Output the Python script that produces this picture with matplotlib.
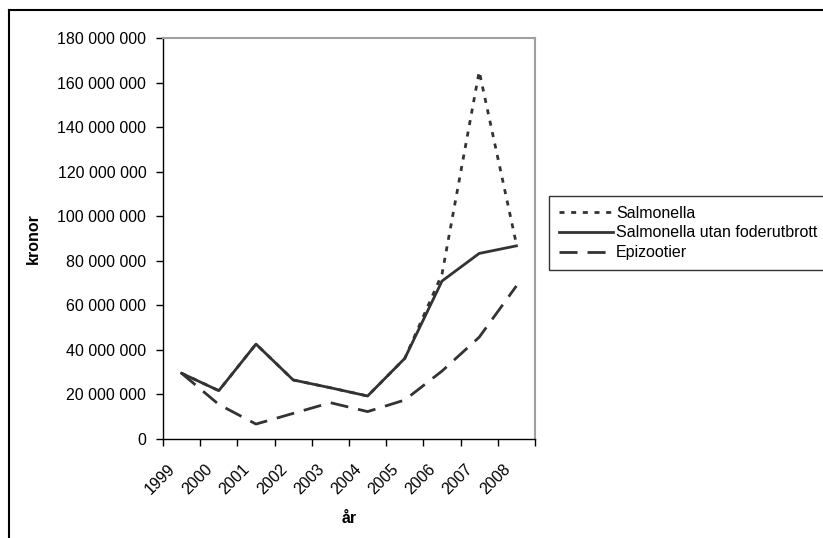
import matplotlib
matplotlib.use("Agg")
import matplotlib.pyplot as plt
from matplotlib.lines import Line2D
from matplotlib.ticker import FuncFormatter, MultipleLocator
from matplotlib.transforms import ScaledTranslation

plt.rcParams["font.family"] = ["Liberation Sans", "DejaVu Sans"]
plt.rcParams["font.size"] = 11.5

years = ["1999", "2000", "2001", "2002", "2003", "2004", "2005", "2006", "2007", "2008"]
salmonella = [29.5, 21.7, 42.6, 26.5, 23.0, 19.3, 36.2, 74.0, 165.0, 87.5]
salmonella_utan = [29.5, 21.7, 42.6, 26.5, 23.0, 19.3, 36.2, 70.9, 83.3, 86.7]
epizootier = [29.5, 15.5, 6.7, 11.5, 16.3, 12.3, 17.5, 30.5, 45.7, 68.7]
scale = 1e6

color = "#333333"

fig = plt.figure(figsize=(8.23, 5.38), dpi=100)
ax = fig.add_axes([163 / 823, 1 - 439 / 538, 372 / 823, 401 / 538])

x = [i + 0.5 for i in range(len(years))]
ax.plot(x, [v * scale for v in salmonella], color=color, lw=2,
        dashes=(1.8, 2.4), label="Salmonella")
ax.plot(x, [v * scale for v in salmonella_utan], color=color, lw=2,
        label="Salmonella utan foderutbrott")
ax.plot(x, [v * scale for v in epizootier], color=color, lw=2,
        dashes=(6.5, 3.6), label="Epizootier")

ax.set_xlim(0, len(years))
ax.set_ylim(0, 180e6)
ax.yaxis.set_major_locator(MultipleLocator(20e6))
ax.yaxis.set_major_formatter(FuncFormatter(lambda v, p: f"{int(round(v)):,}".replace(",", " ")))

# category boundaries get the ticks, labels sit in the middle
ax.set_xticks(range(len(years) + 1))
ax.set_xticklabels([])
ax.set_xticks(x, minor=True)
ax.set_xticklabels(years, minor=True, rotation=45, ha="right", rotation_mode="anchor")
ax.tick_params(axis="x", which="minor", length=0, pad=16)
ax.tick_params(axis="x", which="major", length=5, width=1, color="black")
ax.tick_params(axis="y", length=5, width=1, pad=7)
shift = ScaledTranslation(-14 / 100, 0, fig.dpi_scale_trans)
for lbl in ax.get_xticklabels(minor=True):
    lbl.set_transform(lbl.get_transform() + shift)

for side in ("top", "right"):
    ax.spines[side].set_color("#a0a0a0")
    ax.spines[side].set_linewidth(1.5)
for side in ("left", "bottom"):
    ax.spines[side].set_color("black")
    ax.spines[side].set_linewidth(1)

ax.set_xlabel("år", fontweight="bold", labelpad=10)
ax.set_ylabel("kronor", fontweight="bold", labelpad=12)

leg = fig.legend(loc="upper left", bbox_to_anchor=(549 / 823, 1 - 196 / 538),
                 borderaxespad=0, frameon=True, fancybox=False, handlelength=3.4,
                 handletextpad=0.2, labelspacing=0.3, borderpad=0.6)
leg.get_frame().set_edgecolor("black")
leg.get_frame().set_linewidth(1)

# outer chart frame, cut off at right and bottom
fig.add_artist(Line2D([9 / 823, 9 / 823], [0, 1 - 10 / 538], color="black", lw=1.5,
                      transform=fig.transFigure))
fig.add_artist(Line2D([9 / 823, 1], [1 - 10 / 538, 1 - 10 / 538], color="black", lw=1.5,
                      transform=fig.transFigure))

fig.savefig("out.png", dpi=100)
